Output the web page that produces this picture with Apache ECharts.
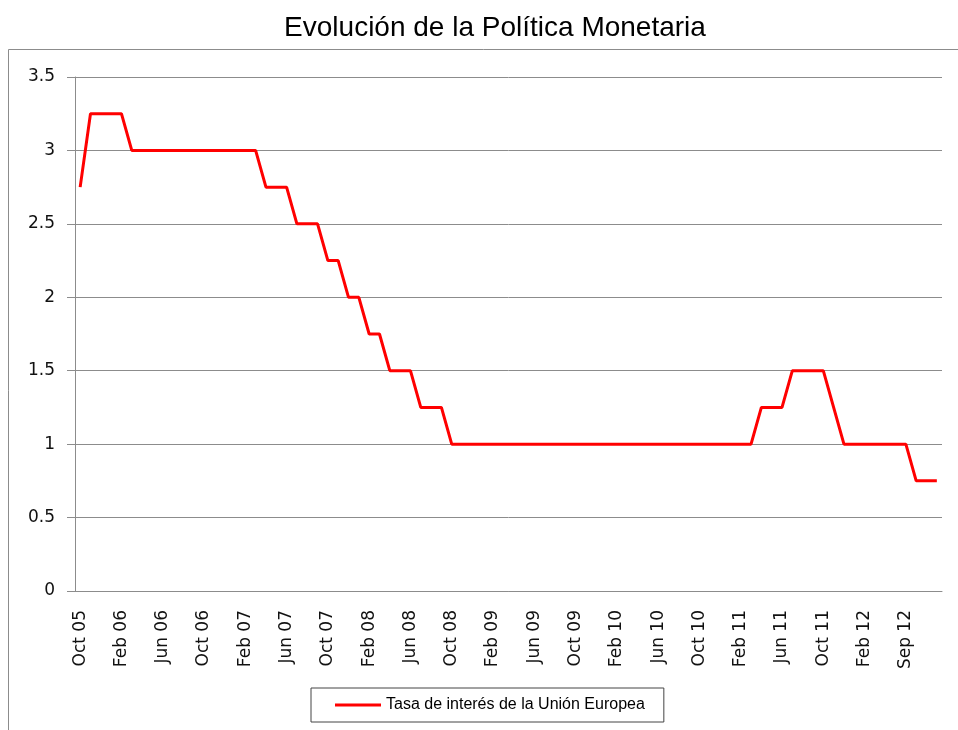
<!DOCTYPE html>
<html>
<head>
<meta charset="utf-8">
<script src="https://cdn.jsdelivr.net/npm/echarts@6/dist/echarts.min.js"></script>
<style>
  html, body { margin: 0; padding: 0; background: #fff; }
  #chart { width: 958px; height: 730px; }
</style>
</head>
<body>
<div id="chart"></div>
<script>
// meses (una categoria por punto)
var meses = [
    'Oct 05', 'Nov 05', 'Dic 05',
    'Jan 06', 'Feb 06', 'Mar 06', 'Apr 06', 'May 06', 'Jun 06', 'Jul 06', 'Aug 06', 'Sep 06', 'Oct 06', 'Nov 06', 'Dec 06',
    'Jan 07', 'Feb 07', 'Mar 07', 'Apr 07', 'May 07', 'Jun 07', 'Jul 07', 'Aug 07', 'Sep 07', 'Oct 07', 'Nov 07', 'Dec 07',
    'Jan 08', 'Feb 08', 'Mar 08', 'Apr 08', 'May 08', 'Jun 08', 'Jul 08', 'Aug 08', 'Sep 08', 'Oct 08', 'Nov 08', 'Dec 08',
    'Jan 09', 'Feb 09', 'Mar 09', 'Apr 09', 'May 09', 'Jun 09', 'Jul 09', 'Aug 09', 'Sep 09', 'Oct 09', 'Nov 09', 'Dec 09',
    'Jan 10', 'Feb 10', 'Mar 10', 'Apr 10', 'May 10', 'Jun 10', 'Jul 10', 'Aug 10', 'Sep 10', 'Oct 10', 'Nov 10', 'Dec 10',
    'Jan 11', 'Feb 11', 'Mar 11', 'Apr 11', 'May 11', 'Jun 11', 'Jul 11', 'Aug 11', 'Sep 11', 'Oct 11', 'Nov 11', 'Dec 11',
    'Jan 12', 'Feb 12', 'Apr 12', 'May 12', 'Jul 12', 'Sep 12', 'Oct 12', 'Nov 12', 'Dec 12'
];

// tasa de interes (%)
var tasa = [
    2.75, 3.25, 3.25, 3.25,
    3.25, 3, 3, 3, 3, 3, 3, 3, 3, 3, 3, 3,
    3, 3, 2.75, 2.75, 2.75, 2.5, 2.5, 2.5, 2.25, 2.25, 2, 2,
    1.75, 1.75, 1.5, 1.5, 1.5, 1.25, 1.25, 1.25, 1, 1, 1, 1,
    1, 1, 1, 1, 1, 1, 1, 1, 1, 1, 1, 1,
    1, 1, 1, 1, 1, 1, 1, 1, 1, 1, 1, 1,
    1, 1, 1.25, 1.25, 1.25, 1.5, 1.5, 1.5, 1.5, 1.25, 1, 1,
    1, 1, 1, 1, 1, 0.75, 0.75, 0.75
];

var yTicks = [0, 0.5, 1, 1.5, 2, 2.5, 3, 3.5];

var gris = '#8c8c8c';
var fuenteEje = 'DejaVu Sans';

var myChart = echarts.init(document.getElementById('chart'));
myChart.setOption({
    backgroundColor: '#fff',
    animation: false,
    title: {
        text: 'Evolución de la Política Monetaria',
        left: 490,
        top: 9,
        textAlign: 'center',
        textStyle: {
            fontFamily: 'Liberation Sans Narrow, Liberation Sans, Arial',
            fontWeight: 'normal',
            fontSize: 28,
            color: '#000'
        }
    },
    graphic: [{
        type: 'rect',
        shape: { x: 8.5, y: 49.5, width: 1000, height: 800 },
        style: { fill: 'none', stroke: gris, lineWidth: 1 },
        silent: true,
        z: -1
    }],
    grid: {
        left: 75,
        right: 16,
        top: 77,
        bottom: 139,
        containLabel: false
    },
    legend: {
        left: 311,
        top: 688,
        padding: [9, 19, 9, 24],
        borderColor: '#444',
        borderWidth: 1,
        itemWidth: 46,
        itemHeight: 3,
        itemGap: 10,
        icon: 'rect',
        textStyle: {
            fontFamily: 'Liberation Sans, Arial',
            fontSize: 16,
            color: '#000'
        },
        data: ['Tasa de interés de la Unión Europea']
    },
    xAxis: {
        type: 'category',
        data: meses,
        boundaryGap: true,
        axisLine: { lineStyle: { color: gris, width: 1 } },
        axisTick: { show: false },
        splitLine: { show: false },
        axisLabel: {
            interval: 3,
            rotate: 90,
            margin: 19,
            fontFamily: fuenteEje,
            fontSize: 17,
            color: '#111'
        }
    },
    yAxis: {
        type: 'value',
        min: 0,
        max: 3.5,
        interval: 0.5,
        axisLine: { show: true, lineStyle: { color: gris, width: 1 } },
        axisTick: { show: true, length: 8, lineStyle: { color: gris } },
        splitLine: { show: true, lineStyle: { color: gris, width: 1 } },
        axisLabel: {
            margin: 20,
            fontFamily: fuenteEje,
            fontSize: 17,
            color: '#111',
            formatter: function (v) {
                return yTicks.indexOf(v) >= 0 ? String(v) : '';
            }
        }
    },
    series: [{
        name: 'Tasa de interés de la Unión Europea',
        type: 'line',
        data: tasa,
        symbol: 'none',
        lineStyle: { color: '#ff0000', width: 3 },
        itemStyle: { color: '#ff0000' }
    }]
});
</script>
</body>
</html>
